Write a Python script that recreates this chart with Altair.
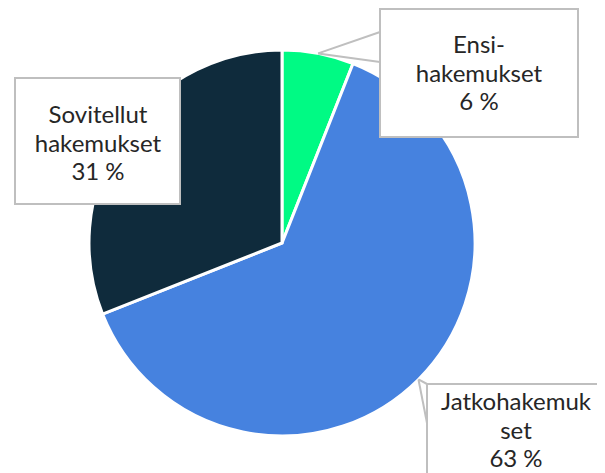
import altair as alt
import pandas as pd
import numpy as np

# ---- data ----
categories = ["Ensi-\nhakemukset", "Jatkohakemuk\nset", "Sovitellut\nhakemukset"]
values = [6, 63, 31]
colors = ["#00FA84", "#4682DF", "#0F2B3C"]

# ---- layout (image pixel coords, minus 8px page margin later) ----
M = 8
CX, CY, R = 282 - M, 243 - M, 193
# label boxes: x0, y0, x1, y1, pointer attach y_a, y_b (None = no pointer)
boxes = [
    (380, 9, 578, 137, 32, 62),
    (427, 384, 640, 520, 384, 423),
    (15, 78, 180, 204, None, None),
]
text_pos = [(479, 53), (516, 410), (98, 123)]

total = sum(values)
cum = np.cumsum([0] + values[:-1])
mid = [(c + v / 2) / total * 2 * np.pi for c, v in zip(cum, values)]

pie_df = pd.DataFrame({
    "cat": categories, "value": values, "order": list(range(len(values))),
})
pie_df["label"] = [f"{c}\n{v} %" for c, v in zip(categories, values)]

rows_box, rows_ptr, rows_txt = [], [], []
for i, (b, m) in enumerate(zip(boxes, mid)):
    x0, y0, x1, y1, ya, yb = b
    rows_box.append({"x": x0 - M, "x2": x1 - M, "y": y0 - M, "y2": y1 - M})
    tx = CX + R * np.sin(m)
    ty = CY - R * np.cos(m)
    if ya is not None:
        for yy in (ya, yb):
            rows_ptr.append({"x": tx, "y": ty, "x2": x0 - M, "y2": yy - M})
    rows_txt.append({"x": text_pos[i][0] - M, "y": text_pos[i][1] - M,
                     "label": pie_df["label"][i]})

W, H = 605 - 2 * M, 473 - M

pie = alt.Chart(pie_df).mark_arc(radius=R, stroke="white", strokeWidth=3).encode(
    theta=alt.Theta("value:Q", stack=True),
    order=alt.Order("order:Q"),
    color=alt.Color("cat:N", scale=alt.Scale(domain=categories, range=colors), legend=None),
    x=alt.value(CX), y=alt.value(CY),
)

ptr = alt.Chart(pd.DataFrame(rows_ptr)).mark_rule(color="#BFBFBF", strokeWidth=2).encode(
    x=alt.X("x:Q", scale=None), y=alt.Y("y:Q", scale=None),
    x2="x2:Q", y2="y2:Q",
)

box = alt.Chart(pd.DataFrame(rows_box)).mark_rect(fill="white", stroke="#BFBFBF", strokeWidth=2).encode(
    x=alt.X("x:Q", scale=None), y=alt.Y("y:Q", scale=None),
    x2="x2:Q", y2="y2:Q",
)

txt = alt.Chart(pd.DataFrame(rows_txt)).mark_text(
    font="Lato", fontSize=24, fontWeight=400, color="#262626", align="center",
    baseline="alphabetic", lineBreak="\n", lineHeight=28.5,
).encode(
    x=alt.X("x:Q", scale=None), y=alt.Y("y:Q", scale=None), text="label:N",
)

chart = alt.layer(pie, ptr, box, txt).properties(
    width=W, height=H, padding=0, autosize=alt.AutoSizeParams(type="none"),
).configure_view(stroke=None)

chart.save("out.html", embed_options={"renderer": "svg", "actions": False})
